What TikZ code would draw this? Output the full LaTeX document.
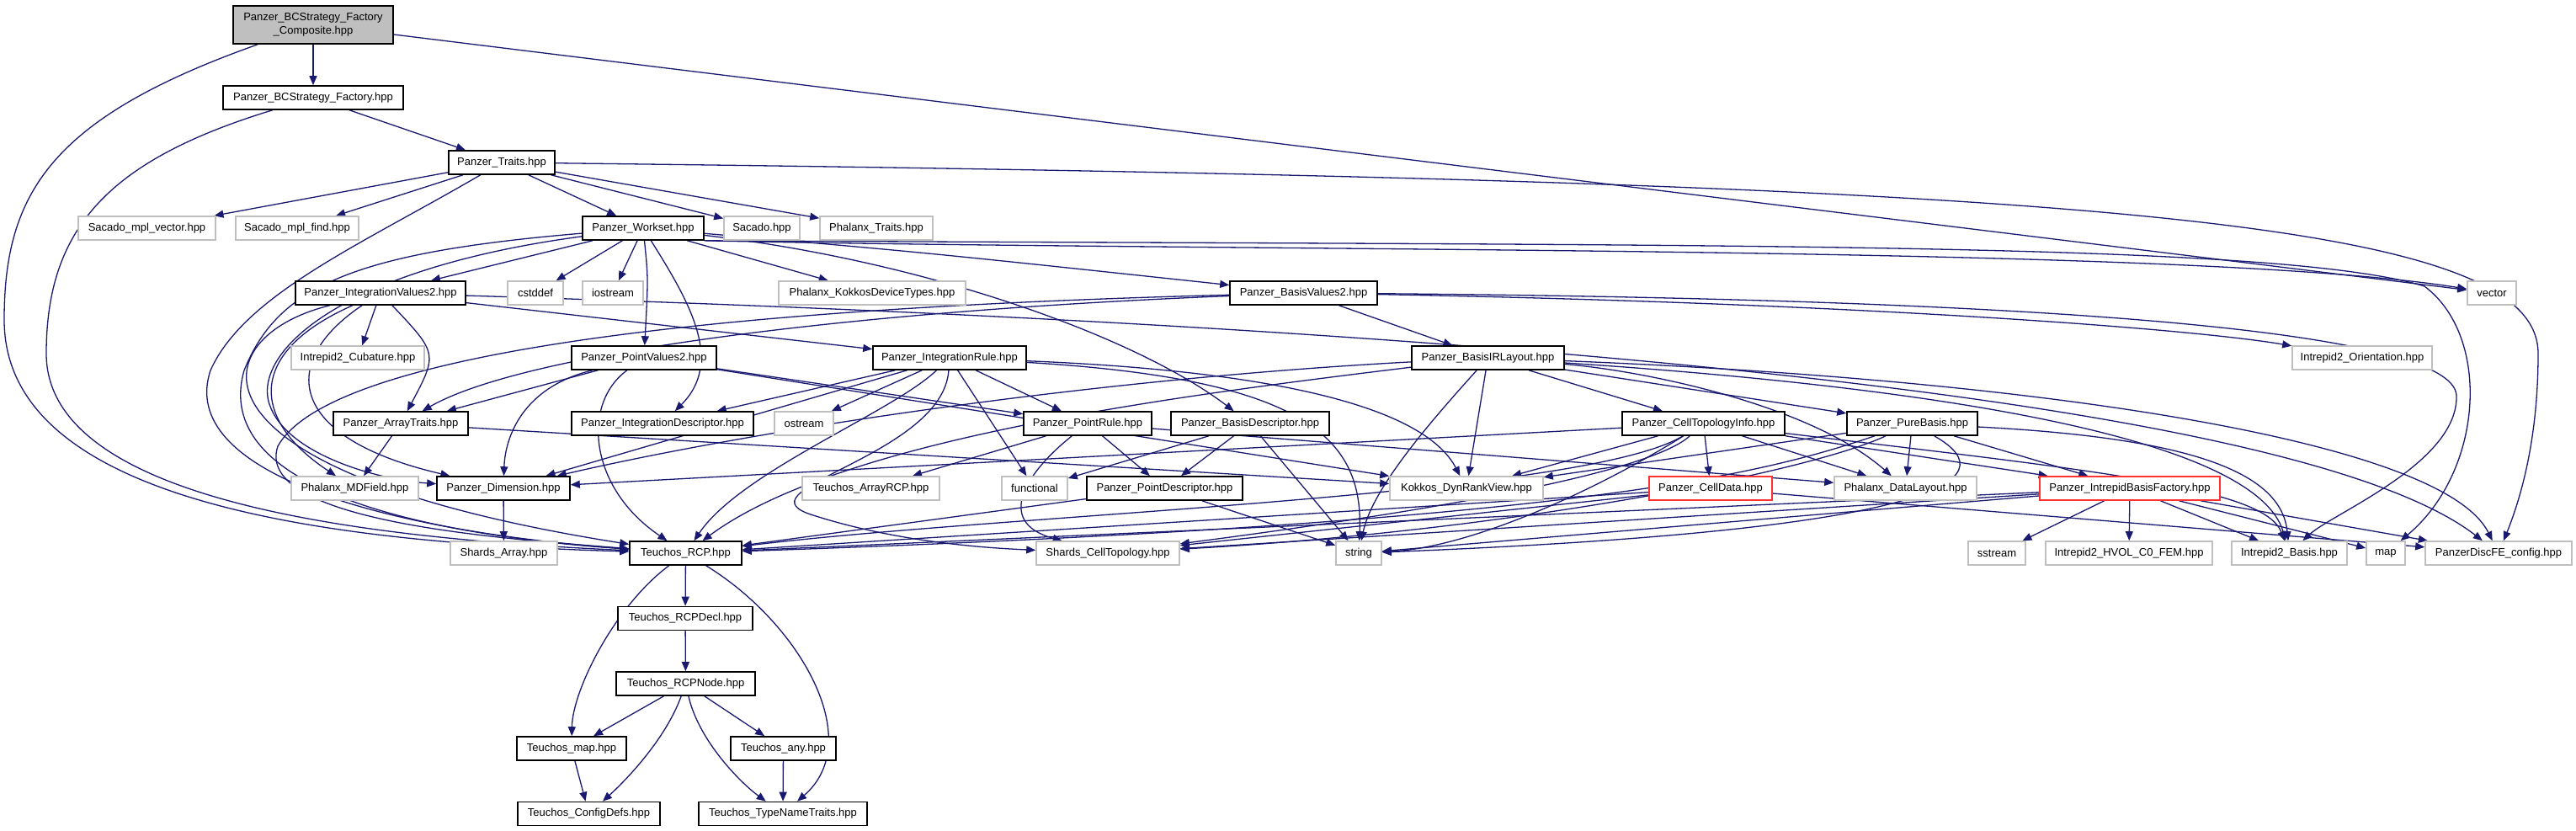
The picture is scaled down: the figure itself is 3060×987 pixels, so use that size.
\documentclass[tikz,border=0pt]{standalone}
\usepackage{fontspec}
\setmainfont{Liberation Sans}
\usetikzlibrary{arrows.meta}
\definecolor{edgeblue}{HTML}{191970}
\definecolor{boxgray}{HTML}{BFBFBF}
\definecolor{hotred}{HTML}{FF3030}
\tikzset{
  hdr/.style={draw=black,line width=1.6pt,fill=white,inner sep=0pt,minimum height=28pt,minimum width=#1,font=\fontsize{13}{16}\selectfont},
  sys/.style={hdr=#1,draw=boxgray},
  hot/.style={hdr=#1,draw=hotred},
  dep/.style={draw=edgeblue,line width=1.3pt,-{Triangle[length=11pt,width=9pt]}}
}
\pgfdeclarelayer{back}
\pgfsetlayers{back,main}
\begin{document}
\begin{tikzpicture}[x=1pt,y=-1pt]
    \useasboundingbox (0,0) rectangle (3060,987);
    \node [hdr=190pt,fill=boxgray,minimum height=45pt,align=center] (composite) at (372,29.5) {Panzer\_BCStrategy\_Factory\\\_Composite.hpp};
    \node [hdr=214pt] (factory) at (372,116) {Panzer\_BCStrategy\_Factory.hpp};
    \node [hdr=126pt] (traits) at (596,193) {Panzer\_Traits.hpp};

    \node [sys=163pt] (mplvector) at (174.5,271) {Sacado\_mpl\_vector.hpp};
    \node [sys=146pt] (mplfind) at (353,271) {Sacado\_mpl\_find.hpp};
    \node [hdr=144pt] (workset) at (764,271) {Panzer\_Workset.hpp};
    \node [sys=90pt] (sacado) at (905,271) {Sacado.hpp};
    \node [sys=134pt] (phxtraits) at (1041,271) {Phalanx\_Traits.hpp};

    \node [hdr=202pt] (intvalues) at (452,348) {Panzer\_IntegrationValues2.hpp};
    \node [sys=66pt] (cstddef) at (636,348) {cstddef};
    \node [sys=72pt] (iostream) at (728,348) {iostream};
    \node [sys=222pt] (devtypes) at (1036,348) {Phalanx\_KokkosDeviceTypes.hpp};
    \node [hdr=175pt] (basisvalues) at (1548.5,348) {Panzer\_BasisValues2.hpp};
    \node [sys=58pt] (vector) at (2960,348) {vector};

    \node [sys=158pt] (cubature) at (425,425) {Intrepid2\_Cubature.hpp};
    \node [hdr=172pt] (ptvalues) at (765,425) {Panzer\_PointValues2.hpp};
    \node [hdr=182pt] (intrule) at (1128,425) {Panzer\_IntegrationRule.hpp};
    \node [hdr=181pt] (irlayout) at (1767.5,425) {Panzer\_BasisIRLayout.hpp};
    \node [sys=166pt] (orientation) at (2806,425) {Intrepid2\_Orientation.hpp};

    \node [hdr=160pt] (arraytraits) at (476,503) {Panzer\_ArrayTraits.hpp};
    \node [hdr=216pt] (intdesc) at (787,503) {Panzer\_IntegrationDescriptor.hpp};
    \node [sys=70pt] (ostream) at (955,503) {ostream};
    \node [hdr=152pt] (ptrule) at (1292,503) {Panzer\_PointRule.hpp};
    \node [hdr=188pt] (basisdesc) at (1485,503) {Panzer\_BasisDescriptor.hpp};
    \node [hdr=193pt] (topoinfo) at (2023.5,503) {Panzer\_CellTopologyInfo.hpp};
    \node [hdr=155pt] (purebasis) at (2271.5,503) {Panzer\_PureBasis.hpp};

    \node [sys=151pt] (mdfield) at (421.5,580) {Phalanx\_MDField.hpp};
    \node [hdr=158pt] (dimension) at (598,580) {Panzer\_Dimension.hpp};
    \node [sys=163pt] (arrayrcp) at (1034.5,580) {Teuchos\_ArrayRCP.hpp};
    \node [sys=78pt] (functional) at (1229,580) {functional};
    \node [hdr=185pt] (ptdesc) at (1383.5,580) {Panzer\_PointDescriptor.hpp};
    \node [sys=182pt] (dynrank) at (1742,580) {Kokkos\_DynRankView.hpp};
    \node [hot=146pt] (celldata) at (2032,580) {Panzer\_CellData.hpp};
    \node [sys=169pt] (datalayout) at (2263.5,580) {Phalanx\_DataLayout.hpp};
    \node [hot=214pt] (basisfactory) at (2530,580) {Panzer\_IntrepidBasisFactory.hpp};

    \node [sys=127pt] (shardsarray) at (598.5,657) {Shards\_Array.hpp};
    \node [hdr=133pt] (rcp) at (814.5,657) {Teuchos\_RCP.hpp};
    \node [sys=170pt] (celltopo) at (1316,657) {Shards\_CellTopology.hpp};
    \node [sys=54pt] (string) at (1614,657) {string};
    \node [sys=68pt] (sstream) at (2372,657) {sstream};
    \node [sys=198pt] (hvol) at (2529,657) {Intrepid2\_HVOL\_C0\_FEM.hpp};
    \node [sys=137pt] (i2basis) at (2719.5,657) {Intrepid2\_Basis.hpp};
    \node [sys=46pt] (map) at (2834,657) {map};
    \node [sys=174pt] (discfe) at (2968,657) {PanzerDiscFE\_config.hpp};

    \node [hdr=160pt] (rcpdecl) at (814,734.5) {Teuchos\_RCPDecl.hpp};
    \node [hdr=165pt] (rcpnode) at (814.5,812) {Teuchos\_RCPNode.hpp};
    \node [hdr=130pt] (tmap) at (679,889) {Teuchos\_map.hpp};
    \node [hdr=125pt] (tany) at (930.5,889) {Teuchos\_any.hpp};
    \node [hdr=169pt] (configdefs) at (699.5,966.5) {Teuchos\_ConfigDefs.hpp};
    \node [hdr=200pt] (typename) at (930,966.5) {Teuchos\_TypeNameTraits.hpp};

    \begin{pgfonlayer}{back}
    \draw [dep] (composite) -- (factory);
    \draw [dep] (composite) .. controls (60,140) and (5,230) .. (5,380) .. controls (5,600) and (400,645) .. (rcp);
    \draw [dep] (composite) -- (vector);
    \draw [dep] (factory) -- (traits);
    \draw [dep] (factory) .. controls (130,190) and (55,270) .. (55,420) .. controls (55,600) and (450,640) .. (rcp);

    \draw [dep] (traits) -- (mplvector);
    \draw [dep] (traits) -- (mplfind);
    \draw [dep] (traits) -- (workset);
    \draw [dep] (traits) -- (sacado);
    \draw [dep] (traits) -- (phxtraits);
    \draw [dep] (traits) .. controls (2500,215) and (3015,260) .. (3015,420) .. controls (3015,520) and (2995,590) .. (discfe);
    \draw [dep] (traits) .. controls (430,290) and (290,350) .. (250,440) .. controls (210,560) and (450,630) .. (rcp);

    \draw [dep] (workset) -- (intvalues);
    \draw [dep] (workset) -- (cstddef);
    \draw [dep] (workset) -- (iostream);
    \draw [dep] (workset) .. controls (770,330) .. (ptvalues);
    \draw [dep] (workset) .. controls (820,360) and (860,430) .. (intdesc);
    \draw [dep] (workset) -- (devtypes);
    \draw [dep] (workset) .. controls (1100,300) .. (basisvalues);
    \draw [dep] (workset) .. controls (1100,310) and (1350,400) .. (basisdesc);
    \draw [dep] (workset.south east) .. controls (1500,300) and (2600,290) .. (vector);
    \draw [dep] (workset.south east) .. controls (2000,292) and (2700,285) .. (2880,340) .. controls (2960,400) and (2950,560) .. (map);
    \draw [dep] (workset) .. controls (400,320) and (300,420) .. (320,480) .. controls (340,540) and (450,570) .. (dimension);
    \draw [dep] (workset) .. controls (420,300) and (330,340) .. (290,440) .. controls (250,580) and (500,635) .. (rcp);

    \draw [dep] (intvalues) -- (cubature);
    \draw [dep] (intvalues) .. controls (520,420) .. (arraytraits);
    \draw [dep] (intvalues) -- (intrule);
    \draw [dep] (intvalues) .. controls (290,420) and (300,500) .. (mdfield);
    \draw [dep] (intvalues) .. controls (330,430) and (340,520) .. (dimension);
    \draw [dep] (intvalues) .. controls (240,400) and (200,560) .. (rcp);
    \draw [dep] (intvalues) .. controls (1500,380) and (2700,450) .. (discfe);

    \draw [dep] (ptvalues) -- (arraytraits);
    \draw [dep] (ptvalues) .. controls (620,460) and (600,520) .. (dimension);
    \draw [dep] (ptvalues) .. controls (690,480) and (700,580) .. (rcp);
    \draw [dep] (ptvalues) -- (ptrule);
    \draw [dep] (ptvalues) -- (dynrank);

    \draw [dep] (intrule) -- (ostream);
    \draw [dep] (intrule) -- (ptrule);
    \draw [dep] (intrule) -- (intdesc);
    \draw [dep] (intrule) -- (dimension);
    \draw [dep] (intrule) -- (functional);
    \draw [dep] (intrule) .. controls (1060,490) and (880,560) .. (rcp);
    \draw [dep] (intrule) .. controls (1120,540) and (880,580) .. (960,610) .. controls (1050,640) and (1150,650) .. (celltopo);
    \draw [dep] (intrule) .. controls (1550,450) and (1620,520) .. (string);
    \draw [dep] (intrule) .. controls (1500,440) and (1690,480) .. (dynrank);

    \draw [dep] (basisvalues) -- (irlayout);
    \draw [dep] (basisvalues) .. controls (1000,370) and (620,420) .. (arraytraits);
    \draw [dep] (basisvalues) .. controls (700,370) and (380,440) .. (330,530) .. controls (300,620) and (600,640) .. (rcp);
    \draw [dep] (basisvalues) .. controls (2200,360) and (2600,390) .. (orientation);
    \draw [dep] (basisvalues) .. controls (2400,355) and (2915,390) .. (2918,470) .. controls (2920,550) and (2770,610) .. (i2basis);

    \draw [dep] (irlayout) -- (topoinfo);
    \draw [dep] (irlayout) -- (purebasis);
    \draw [dep] (irlayout) -- (dynrank);
    \draw [dep] (irlayout) .. controls (1700,500) and (1630,580) .. (string);
    \draw [dep] (irlayout) .. controls (1300,450) and (900,510) .. (dimension);
    \draw [dep] (irlayout) .. controls (1400,470) and (1000,520) .. (rcp);
    \draw [dep] (irlayout) .. controls (1950,440) and (2150,480) .. (datalayout);
    \draw [dep] (irlayout) .. controls (2300,460) and (2680,520) .. (i2basis);
    \draw [dep] (irlayout) .. controls (2400,450) and (2900,520) .. (discfe);

    \draw [dep] (arraytraits) -- (mdfield);
    \draw [dep] (arraytraits) -- (dynrank);

    \draw [dep] (ptrule) -- (arrayrcp);
    \draw [dep] (ptrule) -- (ptdesc);
    \draw [dep] (ptrule) .. controls (1220,560) and (1180,620) .. (celltopo);
    \draw [dep] (ptrule) -- (datalayout);

    \draw [dep] (basisdesc) -- (functional);
    \draw [dep] (basisdesc) -- (ptdesc);
    \draw [dep] (basisdesc) -- (string);
    \draw [dep] (ptdesc) -- (rcp);
    \draw [dep] (ptdesc) -- (string);

    \draw [dep] (topoinfo) -- (dimension);
    \draw [dep] (topoinfo) -- (dynrank);
    \draw [dep] (topoinfo) -- (celldata);
    \draw [dep] (topoinfo) -- (datalayout);
    \draw [dep] (topoinfo) -- (basisfactory);
    \draw [dep] (topoinfo) .. controls (1880,590) and (1200,610) .. (rcp);
    \draw [dep] (topoinfo) .. controls (1900,580) and (1750,650) .. (string);
    \draw [dep] (topoinfo) .. controls (1950,570) and (1600,620) .. (celltopo);
    \draw [dep] (topoinfo) .. controls (2500,560) and (2690,580) .. (i2basis);

    \draw [dep] (purebasis) -- (datalayout);
    \draw [dep] (purebasis) -- (basisfactory);
    \draw [dep] (purebasis) -- (dynrank);
    \draw [dep] (purebasis) .. controls (2100,560) and (1900,620) .. (rcp);
    \draw [dep] (purebasis) .. controls (2390,570) and (2300,630) .. (string);
    \draw [dep] (purebasis) .. controls (2600,520) and (2710,560) .. (i2basis);
    \draw [dep] (purebasis) .. controls (2150,560) and (1800,630) .. (celltopo);

    \draw [dep] (celldata) -- (rcp);
    \draw [dep] (celldata) -- (celltopo);
    \draw [dep] (celldata) -- (discfe);

    \draw [dep] (basisfactory) -- (sstream);
    \draw [dep] (basisfactory) -- (hvol);
    \draw [dep] (basisfactory) -- (i2basis);
    \draw [dep] (basisfactory) -- (map);
    \draw [dep] (basisfactory) -- (discfe);
    \draw [dep] (basisfactory) -- (rcp);
    \draw [dep] (basisfactory) -- (celltopo);
    \draw [dep] (basisfactory) -- (string);

    \draw [dep] (dimension) -- (shardsarray);
    \draw [dep] (rcp) -- (rcpdecl);
    \draw [dep] (rcp) .. controls (730,720) and (680,820) .. (tmap);
    \draw [dep] (rcp) .. controls (950,740) and (1030,880) .. (typename);
    \draw [dep] (rcpdecl) -- (rcpnode);
    \draw [dep] (rcpnode) -- (tmap);
    \draw [dep] (rcpnode) .. controls (790,880) and (740,930) .. (configdefs);
    \draw [dep] (rcpnode) .. controls (830,880) and (880,930) .. (typename);
    \draw [dep] (rcpnode) -- (tany);
    \draw [dep] (tmap) -- (configdefs);
    \draw [dep] (tany) -- (typename);
    \end{pgfonlayer}
\end{tikzpicture}
\end{document}
